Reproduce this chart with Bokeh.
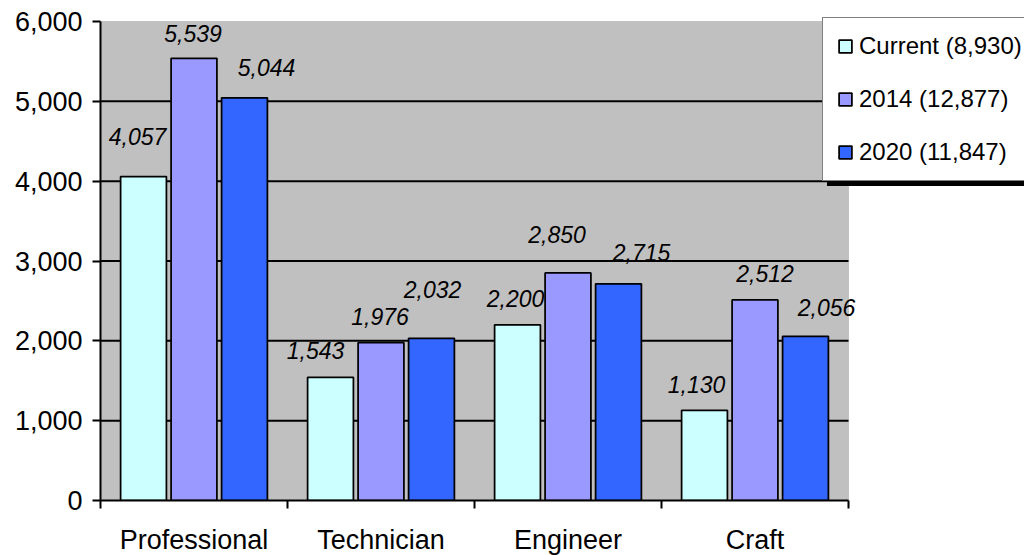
from bokeh.plotting import figure
from bokeh.models import (ColumnDataSource, LabelSet, Legend, LegendItem, FixedTicker,
                          NumeralTickFormatter, Range1d, BoxAnnotation)
from bokeh.core.properties import value
from bokeh.embed import file_html
from bokeh.resources import INLINE

# ---- data ----
categories = ["Professional", "Technician", "Engineer", "Craft"]
series_names = ["Current (8,930)", "2014 (12,877)", "2020 (11,847)"]
current = [4057, 1543, 2200, 1130]
y2014 = [5539, 1976, 2850, 2512]
y2020 = [5044, 2032, 2715, 2056]
y_ticks = [0, 1000, 2000, 3000, 4000, 5000, 6000]

# ---- styling / placement ----
colors = ["#CCFFFF", "#9999FF", "#3366FF"]
dodge = [-0.27, 0.0, 0.27]
bar_width = 0.245
# data-label offsets (pixels) relative to each bar's top centre
label_dx = [[-6, -15, -2, -8], [-1, -1, -11, 10], [22, 1, 23, 21]]
label_dy = [[40, 27, 26, 26], [25, 26, 38, 26], [30, 49, 31, 29]]

FONT = "Liberation Sans"

# plot area (grey box) is 748 x 479 px; the frame is extended to the right and
# upwards so that the legend (which overhangs the plot area) is not clipped
ncat = len(categories)
y_max = y_ticks[-1]
AREA_W, AREA_H, FRAME_W, FRAME_H = 748, 479, 924, 487

p = figure(width=1024, height=554, output_backend="svg", toolbar_location=None,
           x_range=Range1d(0, ncat * FRAME_W / AREA_W),
           y_range=Range1d(0, y_max * FRAME_H / AREA_H),
           min_border_left=100, min_border_right=0, min_border_top=13, min_border_bottom=54)
p.frame_width = FRAME_W
p.frame_height = FRAME_H
p.background_fill_color = "white"
p.border_fill_color = "white"
p.outline_line_color = None
p.xgrid.visible = False
p.ygrid.visible = False

# grey plot area
p.add_layout(BoxAnnotation(left=0, right=ncat, bottom=0, top=y_max, level="underlay",
                           fill_color="#C0C0C0", fill_alpha=1.0,
                           line_color="#808080", line_width=1))

# horizontal gridlines across the plot area only
gy = y_ticks[1:-1]
p.segment(x0=[0] * len(gy), x1=[ncat] * len(gy), y0=gy, y1=gy,
          line_color="black", line_width=2)

# y axis
ya = p.yaxis[0]
ya.bounds = (0, y_max)
ya.ticker = FixedTicker(ticks=y_ticks)
ya.formatter = NumeralTickFormatter(format="0,0")
ya.axis_line_color = "black"
ya.axis_line_width = 2
ya.major_tick_line_color = "black"
ya.major_tick_line_width = 2
ya.major_tick_out = 8
ya.major_tick_in = 0
ya.minor_tick_line_color = None
ya.major_label_standoff = 10
ya.major_label_text_font = FONT
ya.major_label_text_font_size = "27px"
ya.major_label_text_color = "black"

# x axis
xa = p.xaxis[0]
xa.bounds = (0, ncat)
centers = [i + 0.5 for i in range(ncat)]
xa.ticker = FixedTicker(ticks=centers, minor_ticks=list(range(ncat + 1)))
xa.major_label_overrides = {c: name for c, name in zip(centers, categories)}
xa.axis_line_color = "black"
xa.axis_line_width = 2
xa.major_tick_out = 0
xa.major_tick_in = 0
xa.major_tick_line_color = None
xa.minor_tick_line_color = "black"
xa.minor_tick_line_width = 2
xa.minor_tick_out = 8
xa.minor_tick_in = 0
xa.major_label_standoff = 16
xa.major_label_text_font = FONT
xa.major_label_text_font_size = "27px"
xa.major_label_text_color = "black"

renderers = []
for j, vals in enumerate([current, y2014, y2020]):
    src = ColumnDataSource(dict(
        x=[i + 0.5 + dodge[j] for i in range(ncat)],
        top=vals,
        label=[f"{v:,}" for v in vals],
        dx=label_dx[j],
        dy=label_dy[j],
    ))
    r = p.vbar(x="x", top="top", width=bar_width, source=src,
               fill_color=colors[j], line_color="black", line_width=1.75)
    renderers.append(r)
    p.add_layout(LabelSet(x="x", y="top", text="label", x_offset="dx", y_offset="dy",
                          source=src, text_font=value(FONT), text_font_style="italic",
                          text_font_size="23px", text_align="center",
                          text_baseline="middle", text_color="black"))


def make_legend(loc, bg, labels):
    return Legend(items=[LegendItem(label=n, renderers=[r]) for n, r in zip(labels, renderers)],
                  location=loc, orientation="vertical",
                  background_fill_color=bg, background_fill_alpha=1.0,
                  border_line_color="black", border_line_width=1.5,
                  glyph_width=16, glyph_height=16, label_standoff=6,
                  padding=14, spacing=25, label_height=28, label_width=170, margin=0,
                  label_text_font=FONT, label_text_font_size="24px",
                  label_text_color="black")


# shadow (offset 5px right/down) first, then the legend itself on top
p.add_layout(make_legend((727, 314), "black", [" "] * len(series_names)))
p.add_layout(make_legend((722, 319), "white", series_names))

open("out.html", "w").write(file_html(p, INLINE))
